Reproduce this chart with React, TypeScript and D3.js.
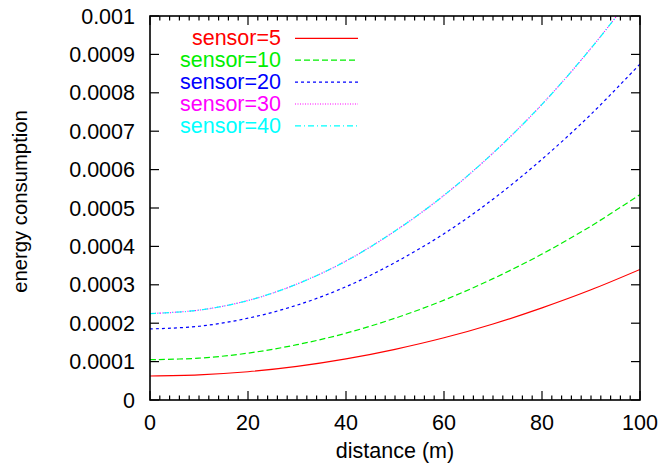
import React from "react";
import * as d3 from "d3";

const distances = [0, 10, 20, 30, 40, 50, 60, 70, 80, 90, 100];
const sensor5 = [0.0000625, 0.0000653, 0.0000736, 0.0000875, 0.000107, 0.000132, 0.000162, 0.000198, 0.00024, 0.000287, 0.00034];
const sensor10 = [0.000105, 0.000109, 0.000122, 0.000144, 0.000174, 0.000213, 0.00026, 0.000316, 0.00038, 0.000453, 0.000535];
const sensor20 = [0.000185, 0.000192, 0.000213, 0.000247, 0.000295, 0.000358, 0.000433, 0.000523, 0.000627, 0.000744, 0.000875];
const sensor30 = [0.000225, 0.000234, 0.000259, 0.000302, 0.000362, 0.00044, 0.000533, 0.000643, 0.00077, 0.000916, 0.001078];
const sensor40 = [0.000225, 0.000234, 0.000259, 0.000302, 0.000362, 0.00044, 0.000533, 0.000643, 0.00077, 0.000916, 0.001078];
const seriesNames = ["sensor=5", "sensor=10", "sensor=20", "sensor=30", "sensor=40"];
const seriesValues = [sensor5, sensor10, sensor20, sensor30, sensor40];
const colors = ["#ff0000", "#00ee00", "#0000ff", "#ff00ff", "#00ffff"];
const dashes = ["none", "6,3", "3,3", "1,1.5", "6,3,1,3"];
const xTicks = [0, 20, 40, 60, 80, 100];
const yTicks = [0, 0.0001, 0.0002, 0.0003, 0.0004, 0.0005, 0.0006, 0.0007, 0.0008, 0.0009, 0.001];
const yTickLabels = ["0", "0.0001", "0.0002", "0.0003", "0.0004", "0.0005", "0.0006", "0.0007", "0.0008", "0.0009", "0.001"];

const W = 663, H = 470;
const L = 150, R = 640, T = 16, B = 400;
const FONT = "'Liberation Sans', Arial, Helvetica, sans-serif";

export default function App() {
  const x = d3.scaleLinear().domain([0, 100]).range([L, R]);
  const y = d3.scaleLinear().domain([0, 0.001]).range([B, T]);
  const minor = d3.range(0, 101, 2);
  const line = d3.line<number>()
    .x((_, i) => x(distances[i]))
    .y((v) => y(v))
    .curve(d3.curveCatmullRom);

  return (
    <svg width={W} height={H} style={{ position: "absolute", left: 0, top: 0, background: "#fff" }} fontFamily={FONT}>
      <defs>
        <clipPath id="plot">
          <rect x={L} y={T} width={R - L} height={B - T} />
        </clipPath>
      </defs>
      <rect x={0} y={0} width={W} height={H} fill="#fff" />
      {/* curves */}
      <g clipPath="url(#plot)">
        {seriesValues.map((vals, i) => (
          <path key={i} d={line(vals) || ""} fill="none" stroke={colors[i]} strokeWidth={1.2}
            strokeDasharray={dashes[i]} />
        ))}
      </g>
      {/* ticks */}
      <g stroke="#000" strokeWidth={1.2}>
        {minor.map((m) => {
          const major = m % 20 === 0;
          const len = major ? 9 : 4.5;
          return (
            <g key={m}>
              <line x1={x(m)} x2={x(m)} y1={B} y2={B - len} />
              <line x1={x(m)} x2={x(m)} y1={T} y2={T + len} />
            </g>
          );
        })}
        {yTicks.map((t) => (
          <g key={t}>
            <line x1={L} x2={L + 9} y1={y(t)} y2={y(t)} />
            <line x1={R} x2={R - 9} y1={y(t)} y2={y(t)} />
          </g>
        ))}
      </g>
      <rect x={L} y={T} width={R - L} height={B - T} fill="none" stroke="#000" strokeWidth={1.6} />
      {/* tick labels */}
      <g fontSize={21.5} fill="#000">
        {yTicks.map((t, i) => (
          <text key={t} x={135} y={y(t) + 7.5} textAnchor="end">{yTickLabels[i]}</text>
        ))}
        {xTicks.map((t) => (
          <text key={t} x={x(t)} y={430} textAnchor="middle">{t}</text>
        ))}
        <text x={(L + R) / 2 + 0} y={458} textAnchor="middle">distance (m)</text>
      </g>
      <text transform={`translate(${27},${201.5}) rotate(-90)`} textAnchor="middle" fontSize={20.3} fill="#000">
        energy consumption
      </text>
      {/* legend */}
      {seriesNames.map((n, i) => {
        const cy = 38.3 + i * 21.9;
        return (
          <g key={n}>
            <text x={281} y={cy + 7} textAnchor="end" fontSize={21.5} fill={colors[i]}>{n}</text>
            <line x1={295} x2={358} y1={cy} y2={cy} stroke={colors[i]} strokeWidth={1.2} strokeDasharray={dashes[i]} />
          </g>
        );
      })}
    </svg>
  );
}
